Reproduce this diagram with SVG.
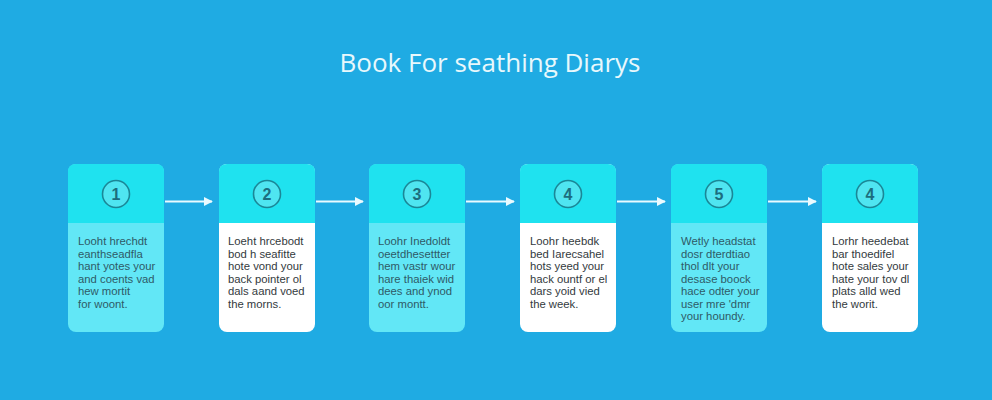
<svg xmlns="http://www.w3.org/2000/svg" width="992" height="400" viewBox="0 0 992 400">
<defs>
<style>
.bg{fill:#1fabe3}
.hdr{fill:#1fe2ef}
.bodyA{fill:#62e7f6}
.bodyB{fill:#ffffff}
.circ{fill:#4fe5f1;stroke:#1b8797;stroke-width:1.6}
.num{font-family:"Liberation Sans",Arial,sans-serif;font-size:16px;font-weight:bold;fill:#1c6d7e;text-anchor:middle}
.txt{font-family:"Liberation Sans",Arial,sans-serif;font-size:11.3px;fill:#2f5a66}
.txtB{font-family:"Liberation Sans",Arial,sans-serif;font-size:11.3px;fill:#333a40}
.title{font-family:"Open Sans",Lato,sans-serif;font-size:26px;fill:#e8f8fc;text-anchor:middle}
.conn{stroke:#eafaff;stroke-width:1.8;fill:none}
</style>
<marker id="ah" viewBox="0 0 10 10" refX="9" refY="5" markerWidth="9" markerHeight="9" markerUnits="userSpaceOnUse" orient="auto">
<path d="M0,0 L10,5 L0,10 z" fill="#eafaff"/>
</marker>
</defs>
<rect class="bg" x="0" y="0" width="992" height="400"/>
<text class="title" x="490" y="72">Book For seathing Diarys</text>

<g id="connectors">
<line class="conn" x1="165" y1="201.5" x2="212" y2="201.5" marker-end="url(#ah)"/>
<line class="conn" x1="316" y1="201.5" x2="363" y2="201.5" marker-end="url(#ah)"/>
<line class="conn" x1="466" y1="201.5" x2="514" y2="201.5" marker-end="url(#ah)"/>
<line class="conn" x1="617" y1="201.5" x2="665" y2="201.5" marker-end="url(#ah)"/>
<line class="conn" x1="768" y1="201.5" x2="816" y2="201.5" marker-end="url(#ah)"/>
</g>

<g id="node1">
<rect class="bodyA" x="68" y="164" width="96" height="168" rx="8"/>
<path class="hdr" d="M68,223 V172 Q68,164 76,164 H156 Q164,164 164,172 V223 Z"/>
<circle class="circ" cx="116" cy="194" r="13.5"/>
<text class="num" x="116" y="200">1</text>
<text class="txt" x="78" y="245">Looht hrechdt</text>
<text class="txt" x="78" y="257.5">eanthseadfla</text>
<text class="txt" x="78" y="270">hant yotes your</text>
<text class="txt" x="78" y="282.5">and coents vad</text>
<text class="txt" x="78" y="295">hew mortit</text>
<text class="txt" x="78" y="307.5">for woont.</text>
</g>

<g id="node2">
<rect class="bodyB" x="219" y="164" width="96" height="168" rx="8"/>
<path class="hdr" d="M219,223 V172 Q219,164 227,164 H307 Q315,164 315,172 V223 Z"/>
<circle class="circ" cx="267" cy="194" r="13.5"/>
<text class="num" x="267" y="200">2</text>
<text class="txtB" x="228" y="245">Loeht hrcebodt</text>
<text class="txtB" x="228" y="257.5">bod h seafitte</text>
<text class="txtB" x="228" y="270">hote vond your</text>
<text class="txtB" x="228" y="282.5">back pointer ol</text>
<text class="txtB" x="228" y="295">dals aand voed</text>
<text class="txtB" x="228" y="307.5">the morns.</text>
</g>

<g id="node3">
<rect class="bodyA" x="369" y="164" width="96" height="168" rx="8"/>
<path class="hdr" d="M369,223 V172 Q369,164 377,164 H457 Q465,164 465,172 V223 Z"/>
<circle class="circ" cx="417" cy="194" r="13.5"/>
<text class="num" x="417" y="200">3</text>
<text class="txt" x="378" y="245">Loohr Inedoldt</text>
<text class="txt" x="378" y="257.5">oeetdhesettter</text>
<text class="txt" x="378" y="270">hem vastr wour</text>
<text class="txt" x="378" y="282.5">hare thaiek wid</text>
<text class="txt" x="378" y="295">dees and ynod</text>
<text class="txt" x="378" y="307.5">oor montt.</text>
</g>

<g id="node4">
<rect class="bodyB" x="520" y="164" width="96" height="168" rx="8"/>
<path class="hdr" d="M520,223 V172 Q520,164 528,164 H608 Q616,164 616,172 V223 Z"/>
<circle class="circ" cx="568" cy="194" r="13.5"/>
<text class="num" x="568" y="200">4</text>
<text class="txtB" x="530" y="245">Loohr heebdk</text>
<text class="txtB" x="530" y="257.5">bed Iarecsahel</text>
<text class="txtB" x="530" y="270">hots yeed your</text>
<text class="txtB" x="530" y="282.5">hack ountf or el</text>
<text class="txtB" x="530" y="295">dars yoid vied</text>
<text class="txtB" x="530" y="307.5">the week.</text>
</g>

<g id="node5">
<rect class="bodyA" x="671" y="164" width="96" height="168" rx="8"/>
<path class="hdr" d="M671,223 V172 Q671,164 679,164 H759 Q767,164 767,172 V223 Z"/>
<circle class="circ" cx="719" cy="194" r="13.5"/>
<text class="num" x="719" y="200">5</text>
<text class="txt" x="681" y="245">Wetly headstat</text>
<text class="txt" x="681" y="257.5">dosr dterdtiao</text>
<text class="txt" x="681" y="270">thol dlt your</text>
<text class="txt" x="681" y="282.5">desase boock</text>
<text class="txt" x="681" y="295">hace odter your</text>
<text class="txt" x="681" y="307.5">user mre 'dmr</text>
<text class="txt" x="681" y="320">your houndy.</text>
</g>

<g id="node6">
<rect class="bodyB" x="822" y="164" width="96" height="168" rx="8"/>
<path class="hdr" d="M822,223 V172 Q822,164 830,164 H910 Q918,164 918,172 V223 Z"/>
<circle class="circ" cx="870" cy="194" r="13.5"/>
<text class="num" x="870" y="200">4</text>
<text class="txtB" x="832" y="245">Lorhr heedebat</text>
<text class="txtB" x="832" y="257.5">bar thoedifel</text>
<text class="txtB" x="832" y="270">hote sales your</text>
<text class="txtB" x="832" y="282.5">hate your tov dl</text>
<text class="txtB" x="832" y="295">plats alld wed</text>
<text class="txtB" x="832" y="307.5">the worit.</text>
</g>
</svg>
